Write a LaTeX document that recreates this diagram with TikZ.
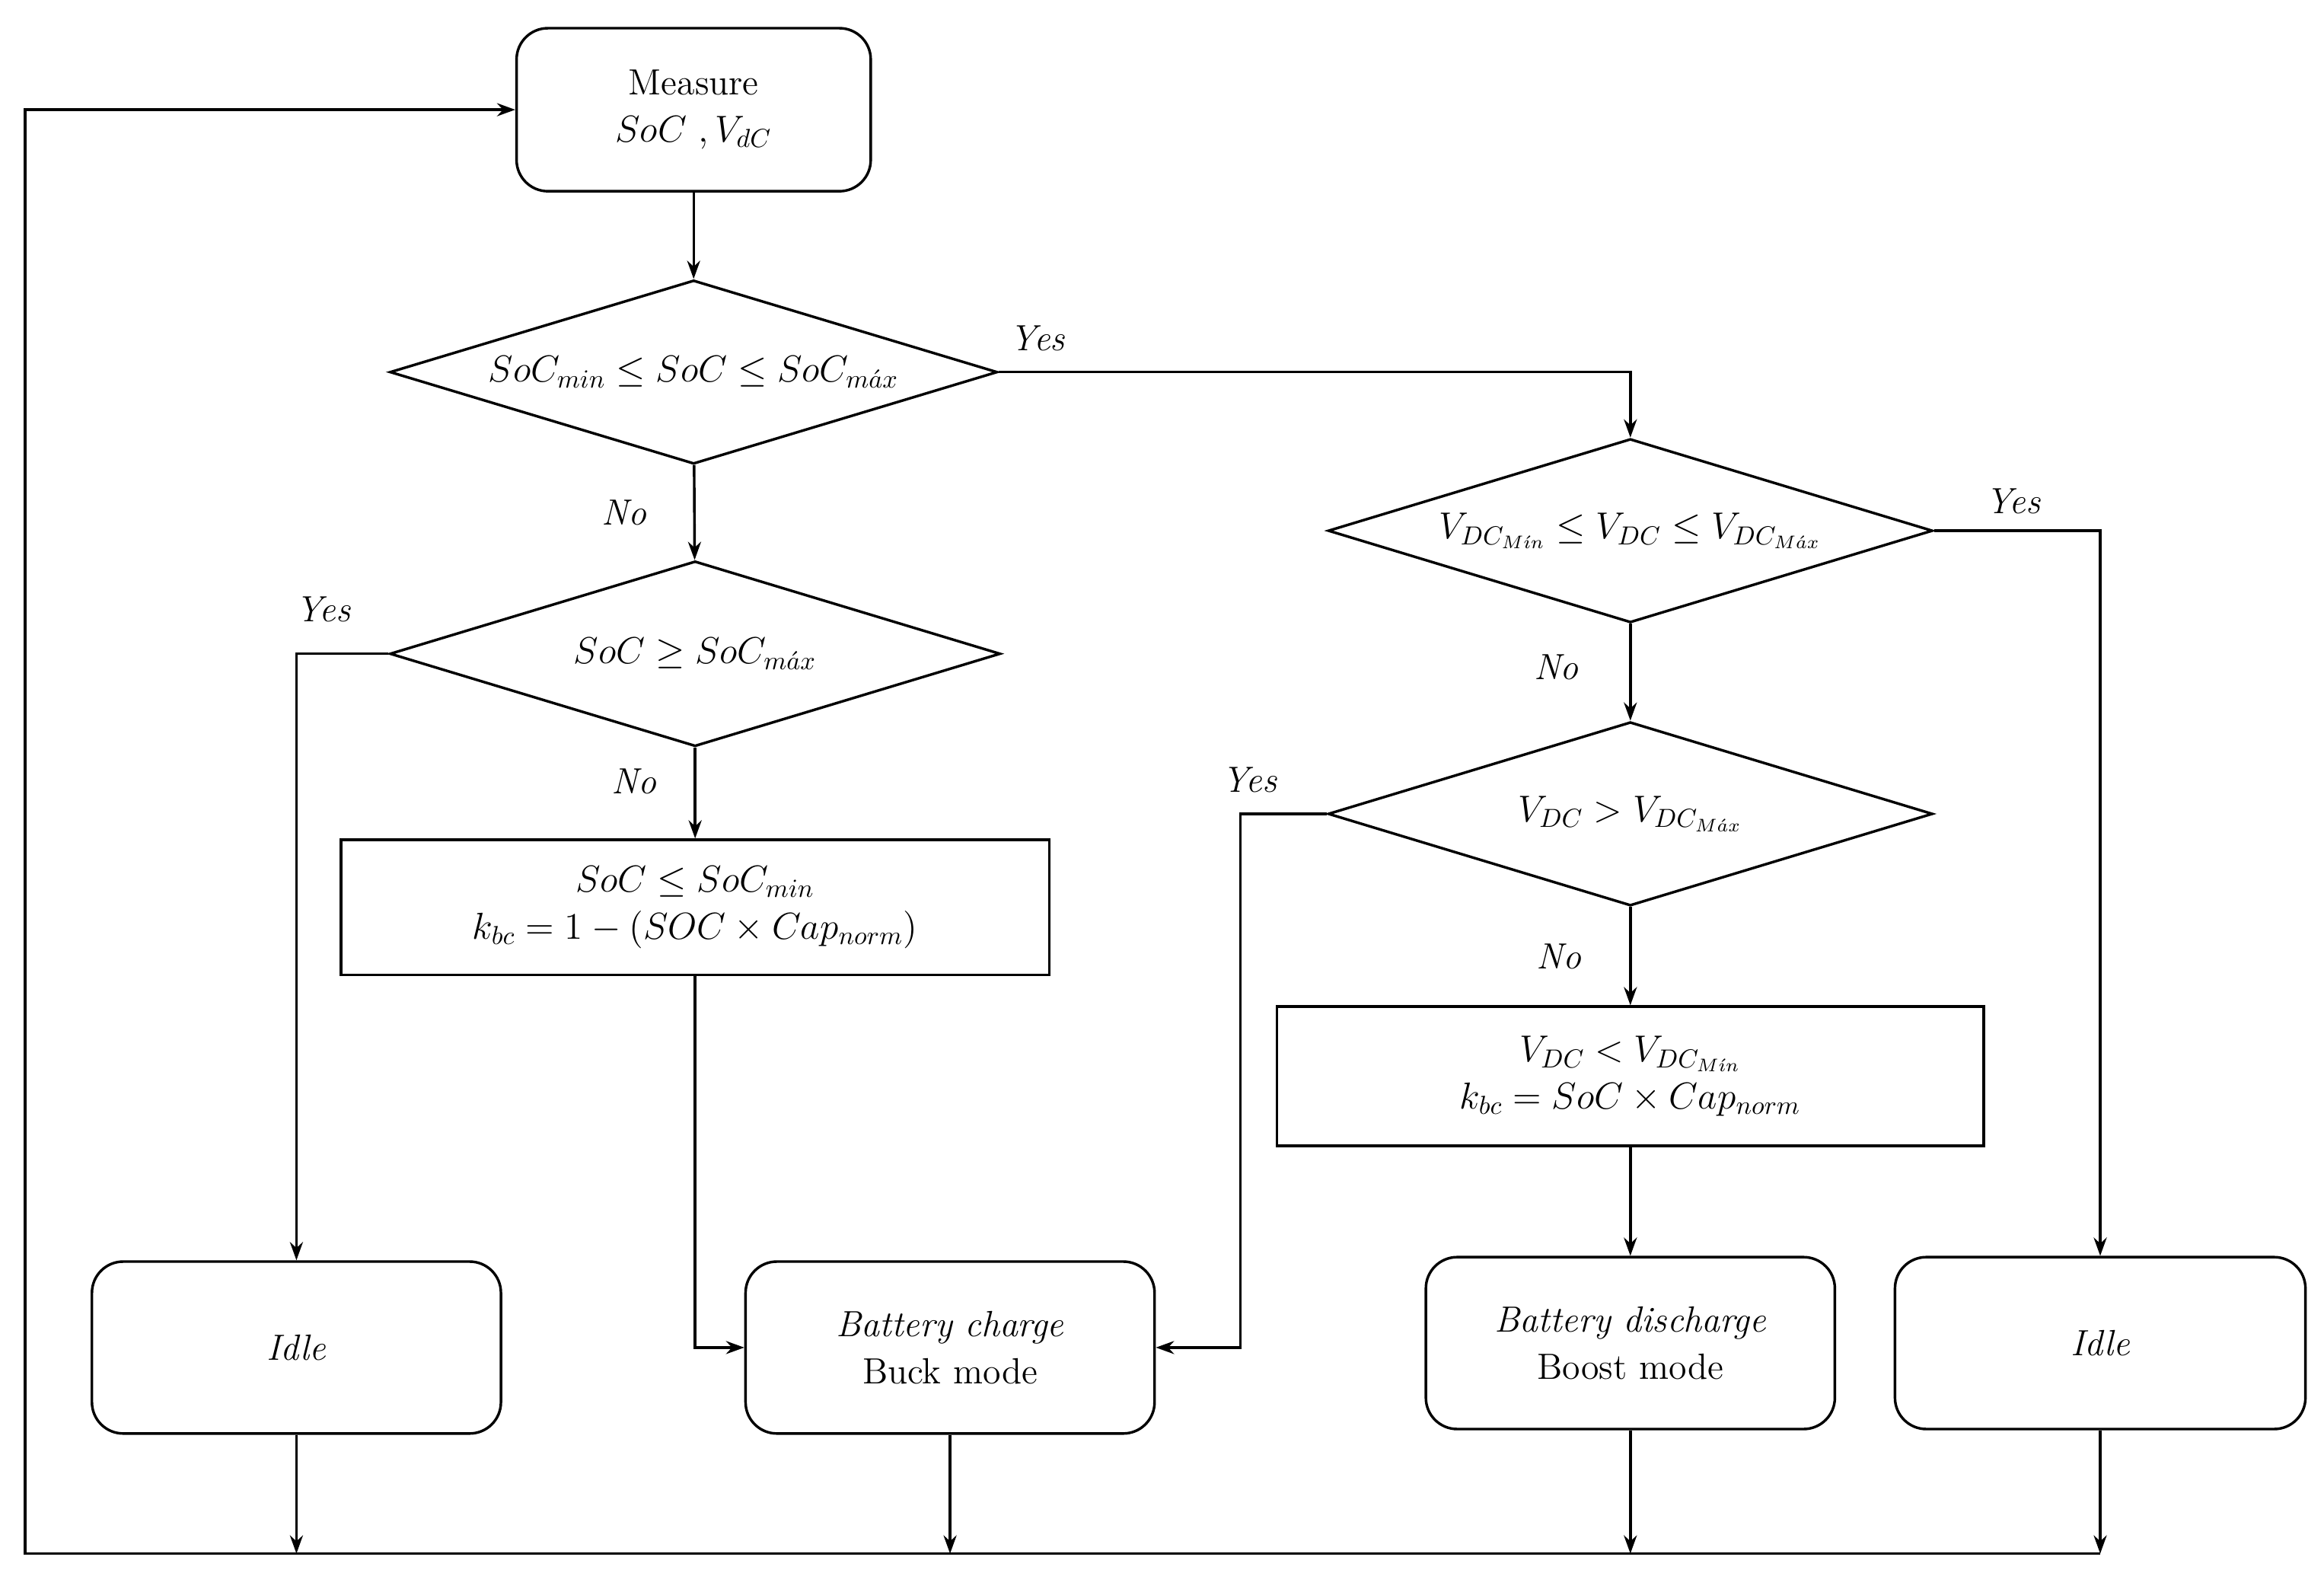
\documentclass[tikz,border=0pt]{standalone}
\usetikzlibrary{shapes.geometric,arrows.meta}
\begin{document}
\begin{tikzpicture}[x=0.02cm,y=-0.02cm,line width=1pt,
 every node/.style={font=\fontsize{14}{18}\selectfont},
 rbox/.style={draw,rounded corners=12pt,align=center,inner sep=0pt},
 rect/.style={draw,align=center,inner sep=0pt},
 dia/.style={draw,diamond,inner sep=0pt,align=center,aspect=3.3},
 arr/.style={-{Stealth[length=7pt,width=5pt]}},
 lbl/.style={font=\fontsize{14}{18}\selectfont\itshape}]
\useasboundingbox (0,0) rectangle (1568,1063);
\node[rbox,minimum width=4.78cm,minimum height=2.2cm] (m) at (468,74) {Measure\\ $SoC\ ,V_{dC}$};
\node[dia,minimum width=8.2cm,minimum height=2.48cm] (d1) at (468,251) {$SoC_{min}\le SoC\le SoC_{m\acute{a}x}$};
\node[dia,minimum width=8.24cm,minimum height=2.5cm] (d2) at (469,441) {$SoC\ge SoC_{m\acute{a}x}$};
\node[rect,minimum width=9.56cm,minimum height=1.82cm] (r1) at (469,612) {$SoC\le SoC_{min}$\\ $k_{bc}=1-(SOC\times Cap_{norm})$};
\node[dia,minimum width=8.16cm,minimum height=2.48cm] (d3) at (1100,358) {$V_{DC_{M\acute{\imath}n}}\le V_{DC}\le V_{DC_{M\acute{a}x}}$};
\node[dia,minimum width=8.16cm,minimum height=2.48cm] (d4) at (1100,549) {$V_{DC}>V_{DC_{M\acute{a}x}}$};
\node[rect,minimum width=9.54cm,minimum height=1.88cm] (r2) at (1100,726) {$V_{DC}<V_{DC_{M\acute{\imath}n}}$\\ $k_{bc}=SoC\times Cap_{norm}$};
\node[rbox,minimum width=5.52cm,minimum height=2.32cm] (i1) at (200,909) {\itshape Idle};
\node[rbox,minimum width=5.52cm,minimum height=2.32cm] (bc) at (641,909) {\itshape Battery charge\\ Buck mode};
\node[rbox,minimum width=5.52cm,minimum height=2.32cm] (bd) at (1100,906) {\itshape Battery discharge\\ Boost mode};
\node[rbox,minimum width=5.54cm,minimum height=2.32cm] (i2) at (1417,906) {\itshape Idle};
\coordinate (b1) at (200,1048);
\coordinate (b2) at (641,1048);
\coordinate (b3) at (1100,1048);
\coordinate (b4) at (1417,1048);
\coordinate (bl) at (17,1048);
\draw[arr] (m) -- (d1);
\draw[arr] (d1.east) -| (d3.north);
\draw[arr] (d1) -- (d2);
\draw[arr] (d2.west) -| (i1.north);
\draw[arr] (d2) -- (r1);
\draw[arr] (r1.south) |- (bc.west);
\draw[arr] (d3.east) -| (i2.north);
\draw[arr] (d3) -- (d4);
\draw[arr] (d4.west) -- (837,549) |- (bc.east);
\draw[arr] (d4) -- (r2);
\draw[arr] (r2) -- (bd);
\draw[arr] (i1) -- (b1);
\draw[arr] (bc) -- (b2);
\draw[arr] (bd) -- (b3);
\draw[arr] (i2) -- (b4);
\draw[arr] (b4) -- (bl) |- (m.west);
\node[lbl] at (700,228) {Yes};
\node[lbl] at (421,346) {No};
\node[lbl] at (218,411) {Yes};
\node[lbl] at (428,527) {No};
\node[lbl] at (1358,338) {Yes};
\node[lbl] at (1050,450) {No};
\node[lbl] at (843,526) {Yes};
\node[lbl] at (1052,645) {No};
\end{tikzpicture}
\end{document}
